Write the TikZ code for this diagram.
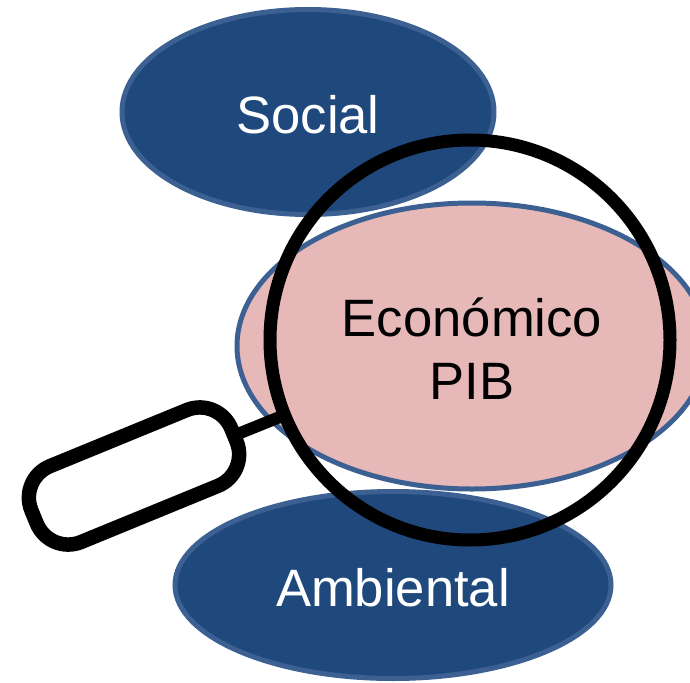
\documentclass[tikz,border=0pt]{standalone}
\usepackage{fontspec}
\setmainfont{Liberation Sans}
\usetikzlibrary{shapes.geometric,positioning}

\definecolor{bluefill}{RGB}{31,73,125}
\definecolor{blueline}{RGB}{59,96,145}
\definecolor{pinkfill}{RGB}{230,184,183}

\tikzset{
    pillar/.style={ellipse, draw=blueline, line width=5pt, fill=bluefill},
    focus/.style={pillar, fill=pinkfill},
    caption/.style={inner sep=0pt, yshift=-2.5pt, align=center, font=\fontsize{52.6}{63}\selectfont},
    lens/.style={circle, draw=black, line width=13pt, inner sep=0pt},
    grip/.style={rectangle, rounded corners=34pt, draw=black, line width=14.5pt, fill=white}
}

\begin{document}
\begin{tikzpicture}[x=1pt, y=-1pt, every node/.append style={outer sep=0pt}]

    \useasboundingbox (0,0) rectangle (690,682);

    \node[pillar, minimum width=372pt, minimum height=205pt] (social) at (308,112) {};
    \node[pillar, minimum width=436pt, minimum height=187pt] (ambiental) at (393,585) {};
    \node[focus, minimum width=470pt, minimum height=286pt] (economico) at (472,346) {};

    \node[caption, text=white] (sociallabel) at (social) {Social};
    \node[caption, text=white] (ambientallabel) at (ambiental) {Ambiental};
    \node[caption] (economicolabel) at (economico) {Económico\\PIB};

    \node[lens, minimum size=400pt] (lupa) at (470,340) {};
    \node[grip, rotate=22.3, minimum width=216pt, minimum height=82pt, inner sep=0pt] (mango) at (134,476) {};

    \draw[black, line width=12pt] (mango) -- (lupa);

\end{tikzpicture}
\end{document}
